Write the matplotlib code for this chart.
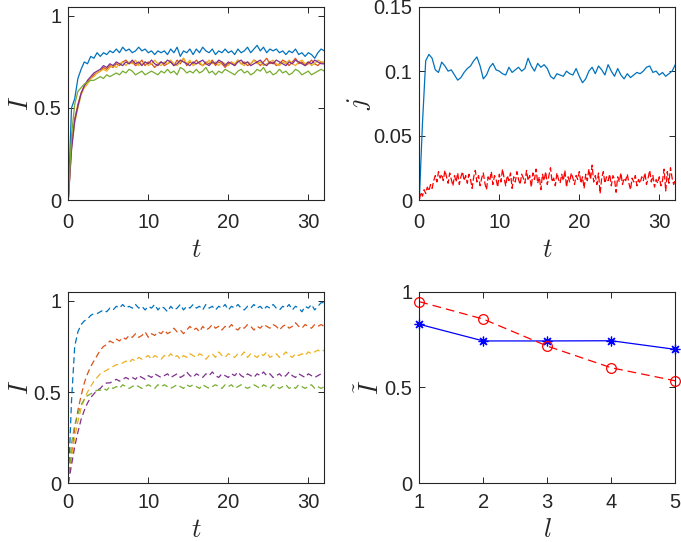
import numpy as np
import matplotlib
matplotlib.use("Agg")
import matplotlib.pyplot as plt

plt.rcParams['font.family'] = ['Liberation Sans', 'DejaVu Sans']
plt.rcParams['mathtext.fontset'] = 'cm'

# time grids
t = np.arange(0, 32.001, 0.4)      # 81 samples
t_fine = np.arange(0, 32.001, 0.2)  # 161 samples

# ---- top-left: I(t), solid lines ----
I_blue = [0.00, 0.50, 0.55, 0.66, 0.71, 0.75, 0.74, 0.78, 0.77, 0.80,
          0.78, 0.80, 0.79, 0.81, 0.80, 0.82, 0.80, 0.83, 0.81, 0.82,
          0.80, 0.81, 0.83, 0.81, 0.82, 0.80, 0.81, 0.79, 0.81, 0.80,
          0.81, 0.79, 0.82, 0.80, 0.83, 0.78, 0.81, 0.80, 0.82, 0.79,
          0.82, 0.80, 0.83, 0.81, 0.80, 0.82, 0.79, 0.81, 0.80, 0.82,
          0.80, 0.81, 0.79, 0.82, 0.80, 0.81, 0.83, 0.80, 0.82, 0.84,
          0.81, 0.83, 0.80, 0.82, 0.81, 0.82, 0.80, 0.81, 0.79, 0.81,
          0.80, 0.82, 0.79, 0.80, 0.78, 0.80, 0.79, 0.77, 0.80, 0.82,
          0.81]
I_orange = [0.00, 0.30, 0.44, 0.52, 0.58, 0.62, 0.64, 0.66, 0.68, 0.69,
            0.70, 0.72, 0.71, 0.73, 0.72, 0.74, 0.73, 0.75, 0.76, 0.74,
            0.75, 0.73, 0.74, 0.76, 0.73, 0.75, 0.74, 0.72, 0.74, 0.75,
            0.73, 0.74, 0.75, 0.73, 0.76, 0.74, 0.77, 0.73, 0.75, 0.74,
            0.76, 0.74, 0.73, 0.75, 0.74, 0.76, 0.73, 0.75, 0.74, 0.72,
            0.74, 0.75, 0.73, 0.76, 0.74, 0.75, 0.73, 0.74, 0.76, 0.75,
            0.73, 0.75, 0.77, 0.74, 0.75, 0.73, 0.74, 0.76, 0.75, 0.73,
            0.75, 0.77, 0.74, 0.75, 0.73, 0.74, 0.76, 0.74, 0.73, 0.75,
            0.74]
I_yellow = [0.00, 0.28, 0.42, 0.50, 0.57, 0.61, 0.63, 0.66, 0.67, 0.69,
            0.70, 0.71, 0.70, 0.72, 0.73, 0.72, 0.74, 0.75, 0.73, 0.75,
            0.74, 0.76, 0.73, 0.74, 0.75, 0.73, 0.74, 0.76, 0.74, 0.73,
            0.75, 0.74, 0.76, 0.74, 0.73, 0.75, 0.77, 0.74, 0.76, 0.73,
            0.74, 0.75, 0.73, 0.74, 0.76, 0.74, 0.75, 0.73, 0.75, 0.74,
            0.73, 0.75, 0.74, 0.76, 0.74, 0.73, 0.75, 0.74, 0.76, 0.74,
            0.75, 0.73, 0.74, 0.75, 0.76, 0.74, 0.73, 0.75, 0.74, 0.76,
            0.74, 0.73, 0.75, 0.76, 0.74, 0.75, 0.73, 0.74, 0.76, 0.75,
            0.75]
I_purple = [0.00, 0.27, 0.43, 0.51, 0.58, 0.62, 0.65, 0.67, 0.69, 0.70,
            0.71, 0.73, 0.72, 0.74, 0.73, 0.75, 0.74, 0.73, 0.75, 0.74,
            0.76, 0.74, 0.75, 0.73, 0.75, 0.74, 0.76, 0.74, 0.73, 0.75,
            0.74, 0.76, 0.75, 0.73, 0.74, 0.76, 0.75, 0.74, 0.73, 0.75,
            0.74, 0.75, 0.76, 0.74, 0.73, 0.75, 0.74, 0.76, 0.75, 0.73,
            0.75, 0.74, 0.73, 0.75, 0.76, 0.74, 0.75, 0.73, 0.74, 0.75,
            0.76, 0.74, 0.73, 0.75, 0.74, 0.76, 0.75, 0.74, 0.73, 0.75,
            0.74, 0.76, 0.75, 0.74, 0.73, 0.75, 0.74, 0.76, 0.75, 0.74,
            0.74]
I_green = [0.00, 0.35, 0.52, 0.59, 0.61, 0.63, 0.64, 0.65, 0.65, 0.66,
           0.67, 0.66, 0.68, 0.67, 0.68, 0.69, 0.68, 0.70, 0.69, 0.71,
           0.70, 0.68, 0.69, 0.70, 0.68, 0.69, 0.70, 0.69, 0.68, 0.70,
           0.69, 0.71, 0.69, 0.70, 0.68, 0.72, 0.71, 0.69, 0.70, 0.69,
           0.71, 0.69, 0.70, 0.72, 0.69, 0.70, 0.68, 0.70, 0.69, 0.71,
           0.70, 0.69, 0.68, 0.70, 0.71, 0.69, 0.70, 0.68, 0.69, 0.71,
           0.70, 0.72, 0.69, 0.70, 0.68, 0.69, 0.71, 0.69, 0.70, 0.68,
           0.69, 0.71, 0.70, 0.68, 0.69, 0.70, 0.68, 0.69, 0.70, 0.71,
           0.70]

# ---- top-right: j(t) ----
j_blue = [0.000, 0.060, 0.108, 0.113, 0.110, 0.101, 0.099, 0.107, 0.104, 0.100,
          0.101, 0.097, 0.093, 0.095, 0.099, 0.102, 0.104, 0.108, 0.111, 0.104,
          0.094, 0.097, 0.103, 0.106, 0.101, 0.100, 0.098, 0.097, 0.103, 0.099,
          0.101, 0.103, 0.100, 0.102, 0.110, 0.104, 0.100, 0.106, 0.103, 0.105,
          0.102, 0.096, 0.094, 0.098, 0.097, 0.096, 0.100, 0.098, 0.097, 0.102,
          0.096, 0.091, 0.094, 0.100, 0.103, 0.098, 0.104, 0.101, 0.097, 0.105,
          0.100, 0.096, 0.102, 0.097, 0.094, 0.098, 0.095, 0.097, 0.099, 0.098,
          0.100, 0.103, 0.104, 0.099, 0.100, 0.097, 0.099, 0.096, 0.098, 0.100,
          0.105]
j_red = [0.000, 0.006, 0.003, 0.008, 0.005, 0.010, 0.007, 0.012, 0.009, 0.015,
         0.019, 0.014, 0.022, 0.017, 0.020, 0.015, 0.023, 0.018, 0.013, 0.021,
         0.016, 0.011, 0.019, 0.014, 0.021, 0.012, 0.018, 0.022, 0.015, 0.019,
         0.013, 0.020, 0.016, 0.009, 0.018, 0.023, 0.014, 0.019, 0.011, 0.017,
         0.021, 0.013, 0.008, 0.018, 0.015, 0.022, 0.012, 0.019, 0.016, 0.010,
         0.020, 0.014, 0.024, 0.017, 0.011, 0.019, 0.015, 0.021, 0.009, 0.018,
         0.014, 0.022, 0.016, 0.012, 0.020, 0.017, 0.013, 0.023, 0.015, 0.019,
         0.010, 0.021, 0.016, 0.024, 0.013, 0.018, 0.008, 0.020, 0.015, 0.022,
         0.012, 0.019, 0.025, 0.014, 0.017, 0.011, 0.021, 0.016, 0.013, 0.020,
         0.015, 0.023, 0.010, 0.018, 0.014, 0.021, 0.017, 0.012, 0.019, 0.016,
         0.022, 0.013, 0.018, 0.009, 0.020, 0.015, 0.024, 0.016, 0.027, 0.014,
         0.019, 0.012, 0.021, 0.005, 0.017, 0.022, 0.013, 0.018, 0.015, 0.020,
         0.011, 0.019, 0.016, 0.006, 0.018, 0.014, 0.021, 0.012, 0.017, 0.015,
         0.020, 0.013, 0.008, 0.017, 0.014, 0.019, 0.011, 0.016, 0.013, 0.018,
         0.015, 0.021, 0.012, 0.017, 0.023, 0.014, 0.019, 0.010, 0.016, 0.013,
         0.018, 0.011, 0.015, 0.024, 0.007, 0.022, 0.013, 0.025, 0.017, 0.012,
         0.016]

# ---- bottom-left: I(t), dashed lines ----
B_blue = [0.00, 0.45, 0.75, 0.83, 0.87, 0.89, 0.90, 0.92, 0.93, 0.93,
          0.94, 0.95, 0.94, 0.96, 0.95, 0.97, 0.96, 0.98, 0.96, 0.97,
          0.96, 0.98, 0.96, 0.97, 0.95, 0.97, 0.96, 0.98, 0.95, 0.97,
          0.96, 0.94, 0.97, 0.95, 0.96, 0.98, 0.95, 0.97, 0.96, 0.98,
          0.96, 0.97, 0.95, 0.98, 0.96, 0.97, 0.95, 0.97, 0.96, 0.98,
          0.95, 0.97, 0.96, 0.98, 0.96, 0.95, 0.97, 0.96, 0.98, 0.96,
          0.97, 0.95, 0.97, 0.96, 0.98, 0.96, 0.95, 0.97, 0.96, 0.98,
          0.95, 0.97, 0.96, 0.94, 0.97, 0.96, 0.98, 0.95, 0.97, 0.99,
          0.99]
B_orange = [0.00, 0.15, 0.30, 0.40, 0.48, 0.55, 0.60, 0.64, 0.67, 0.70,
            0.73, 0.75, 0.76, 0.78, 0.77, 0.79, 0.78, 0.80, 0.79, 0.81,
            0.80, 0.82, 0.80, 0.81, 0.83, 0.80, 0.82, 0.81, 0.83, 0.82,
            0.84, 0.82, 0.83, 0.85, 0.83, 0.84, 0.82, 0.84, 0.86, 0.84,
            0.85, 0.83, 0.86, 0.84, 0.85, 0.87, 0.85, 0.86, 0.84, 0.86,
            0.85, 0.87, 0.85, 0.84, 0.86, 0.85, 0.87, 0.86, 0.84, 0.86,
            0.85, 0.87, 0.86, 0.85, 0.87, 0.86, 0.84, 0.86, 0.87, 0.85,
            0.86, 0.88, 0.86, 0.85, 0.87, 0.86, 0.85, 0.87, 0.86, 0.87,
            0.86]
B_yellow = [0.00, 0.13, 0.25, 0.34, 0.41, 0.46, 0.50, 0.53, 0.56, 0.58,
            0.60, 0.61, 0.62, 0.63, 0.64, 0.65, 0.65, 0.66, 0.67, 0.66,
            0.68, 0.67, 0.69, 0.68, 0.69, 0.70, 0.68, 0.70, 0.69, 0.68,
            0.70, 0.69, 0.71, 0.69, 0.70, 0.68, 0.70, 0.69, 0.71, 0.70,
            0.69, 0.71, 0.70, 0.68, 0.70, 0.71, 0.69, 0.72, 0.70, 0.69,
            0.71, 0.70, 0.69, 0.71, 0.70, 0.72, 0.69, 0.71, 0.70, 0.69,
            0.71, 0.70, 0.72, 0.69, 0.70, 0.71, 0.69, 0.70, 0.72, 0.70,
            0.69, 0.71, 0.70, 0.71, 0.70, 0.72, 0.71, 0.72, 0.73, 0.72,
            0.73]
B_purple = [0.00, 0.10, 0.20, 0.28, 0.35, 0.40, 0.44, 0.47, 0.49, 0.51,
            0.52, 0.54, 0.55, 0.55, 0.56, 0.57, 0.56, 0.57, 0.58, 0.57,
            0.58, 0.57, 0.59, 0.58, 0.57, 0.59, 0.58, 0.60, 0.59, 0.58,
            0.59, 0.60, 0.58, 0.59, 0.60, 0.58, 0.59, 0.61, 0.59, 0.58,
            0.60, 0.59, 0.58, 0.60, 0.59, 0.61, 0.59, 0.58, 0.60, 0.59,
            0.58, 0.60, 0.59, 0.61, 0.59, 0.58, 0.60, 0.59, 0.58, 0.60,
            0.59, 0.61, 0.59, 0.60, 0.58, 0.59, 0.60, 0.58, 0.59, 0.61,
            0.59, 0.58, 0.60, 0.59, 0.58, 0.60, 0.59, 0.58, 0.59, 0.60,
            0.60]
B_green = [0.00, 0.22, 0.32, 0.38, 0.43, 0.46, 0.48, 0.49, 0.50, 0.51,
           0.51, 0.52, 0.51, 0.53, 0.52, 0.53, 0.52, 0.54, 0.53, 0.52,
           0.53, 0.54, 0.53, 0.52, 0.53, 0.54, 0.53, 0.52, 0.54, 0.53,
           0.54, 0.53, 0.52, 0.53, 0.54, 0.53, 0.52, 0.54, 0.53, 0.54,
           0.53, 0.52, 0.54, 0.53, 0.52, 0.53, 0.54, 0.53, 0.52, 0.54,
           0.53, 0.54, 0.52, 0.53, 0.54, 0.53, 0.52, 0.53, 0.54, 0.53,
           0.52, 0.54, 0.53, 0.52, 0.54, 0.53, 0.52, 0.53, 0.54, 0.52,
           0.53, 0.52, 0.54, 0.53, 0.52, 0.53, 0.54, 0.52, 0.53, 0.52,
           0.53]

# ---- bottom-right: I tilde vs l ----
l_vals = [1, 2, 3, 4, 5]
Itil_star = [0.830, 0.743, 0.743, 0.744, 0.699]
Itil_circ = [0.948, 0.857, 0.716, 0.603, 0.535]

mcols = ['#0072BD', '#D95319', '#EDB120', '#7E2F8E', '#77AC30']
axcol = '#262626'

fig = plt.figure(figsize=(6.81, 5.42), dpi=100)
W, H = 681, 542
def add_ax(x0, x1, ytop, ybot):
    return fig.add_axes([x0 / W, 1 - ybot / H, (x1 - x0) / W, (ybot - ytop) / H])

ax1 = add_ax(68.3, 324.3, 6.7, 200.0)
ax2 = add_ax(419.3, 675.3, 6.7, 200.0)
ax3 = add_ax(68.3, 324.3, 291.7, 483.3)
ax4 = add_ax(419.3, 675.3, 291.7, 483.3)

lw = 0.9
for ys, c in zip([I_blue, I_orange, I_yellow, I_purple, I_green], mcols):
    ax1.plot(t, ys, color=c, lw=lw)
ax1.set_xlim(0, 32); ax1.set_ylim(0, 1.05)
ax1.set_xticks([0, 10, 20, 30]); ax1.set_yticks([0, 0.5, 1])
ax1.set_yticklabels(['0', '0.5', '1'])

ax2.plot(t, j_blue, color=mcols[0], lw=lw)
ax2.plot(t_fine, j_red, color='red', lw=lw, dashes=(5, 2))
ax2.set_xlim(0, 32); ax2.set_ylim(0, 0.15)
ax2.set_xticks([0, 10, 20, 30]); ax2.set_yticks([0, 0.05, 0.1, 0.15])
ax2.set_yticklabels(['0', '0.05', '0.1', '0.15'])

for ys, c in zip([B_blue, B_orange, B_yellow, B_purple, B_green], mcols):
    ax3.plot(t, ys, color=c, lw=lw, dashes=(5, 3))
ax3.set_xlim(0, 32); ax3.set_ylim(0, 1.05)
ax3.set_xticks([0, 10, 20, 30]); ax3.set_yticks([0, 0.5, 1])
ax3.set_yticklabels(['0', '0.5', '1'])

ax4.plot(l_vals, Itil_star, color='blue', lw=lw, marker=(8, 2, 0), ms=7,
         mew=0.9, clip_on=False)
ax4.plot(l_vals, Itil_circ, color='red', lw=lw, dashes=(7, 4), marker='o', ms=7,
         mfc='none', mew=0.9, clip_on=False)
ax4.set_xlim(1, 5); ax4.set_ylim(0, 1)
ax4.set_xticks(l_vals); ax4.set_yticks([0, 0.5, 1])
ax4.set_yticklabels(['0', '0.5', '1'])

lab = dict(fontsize=19, color=axcol)
ax1.set_ylabel(r'$I$', **lab); ax1.set_xlabel(r'$t$', **lab)
ax2.set_ylabel(r'$j$', **lab); ax2.set_xlabel(r'$t$', **lab)
ax3.set_ylabel(r'$I$', **lab); ax3.set_xlabel(r'$t$', **lab)
ax4.set_ylabel(r'$\tilde{I}$', **lab); ax4.set_xlabel(r'$l$', **lab)

for ax in (ax1, ax2, ax3, ax4):
    for s in ax.spines.values():
        s.set_color(axcol); s.set_linewidth(0.8)
    ax.tick_params(direction='in', top=True, right=True, length=4, width=0.7,
                   colors=axcol, labelsize=14.5)
    ax.tick_params(axis='y', pad=5)
    ax.yaxis.labelpad = 0

for ax in (ax1, ax2):
    ax.tick_params(axis='x', pad=9)
    ax.xaxis.labelpad = 5
for ax in (ax3, ax4):
    ax.tick_params(axis='x', pad=7)
    ax.xaxis.labelpad = 4

fig.savefig('out.png', dpi=100)
